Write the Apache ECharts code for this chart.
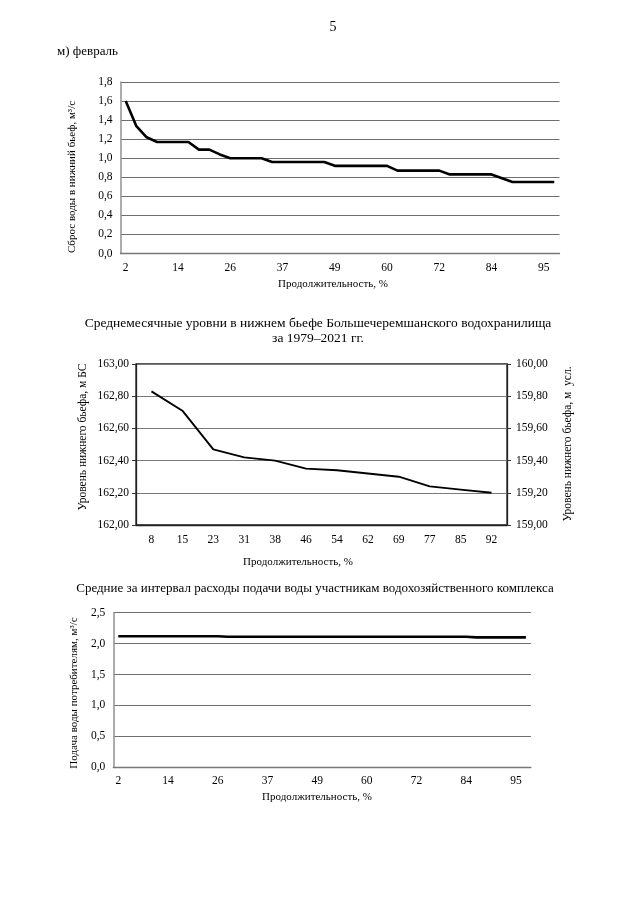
<!DOCTYPE html>
<html>
<head>
<meta charset="utf-8">
<script src="https://cdn.jsdelivr.net/npm/echarts@6/dist/echarts.min.js"></script>
<style>
html,body{margin:0;padding:0;background:#fff;}
#c{width:640px;height:905px;}
</style>
</head>
<body>
<div id="c"></div>
<script>
// ---- data ----
var durations42 = [2,5,7,9,12,14,16,19,21,23,26,28,30,33,35,37,40,42,44,47,49,51,53,56,58,60,63,65,67,70,72,74,77,79,81,84,86,88,91,93,95,98];
var febDischarge = [1.60,1.34,1.22,1.17,1.17,1.17,1.17,1.09,1.09,1.04,1.00,1.00,1.00,1.00,0.96,0.96,0.96,0.96,0.96,0.96,0.92,0.92,0.92,0.92,0.92,0.92,0.87,0.87,0.87,0.87,0.87,0.83,0.83,0.83,0.83,0.83,0.79,0.75,0.75,0.75,0.75,0.75];
var durations12 = [8,15,23,31,38,46,54,62,69,77,85,92];
var tailwaterLevel = [162.83,162.71,162.47,162.42,162.40,162.35,162.34,162.32,162.30,162.24,162.22,162.20];
var supplyFlow = [2.12,2.12,2.12,2.12,2.12,2.12,2.12,2.12,2.12,2.12,2.12,2.11,2.11,2.11,2.11,2.11,2.11,2.11,2.11,2.11,2.11,2.11,2.11,2.11,2.11,2.11,2.11,2.11,2.11,2.11,2.11,2.11,2.11,2.11,2.11,2.11,2.10,2.10,2.10,2.10,2.10,2.10];

var FF = 'Liberation Serif';
function comma(d){ return function(v){ return v.toFixed(d).replace('.', ','); }; }
var gridLine = {show:true, lineStyle:{color:'#6e6e6e', width:1.2}};
var lbl = {fontFamily:FF, fontSize:11.5, color:'#000'};
var tick = {interval:0, length:4, lineStyle:{color:'#333', width:1}};

var chart = echarts.init(document.getElementById('c'), null, {renderer:'canvas'});
chart.setOption({
  animation:false,
  backgroundColor:'#fff',
  grid:[
    {left:120.5, top:82, width:439, height:171.5, containLabel:false},
    {left:136, top:364, width:371, height:161, containLabel:false, show:true, borderColor:'#222', borderWidth:1.3},
    {left:113.3, top:612.7, width:417.6, height:154.5, containLabel:false}
  ],
  xAxis:[
    {gridIndex:0, type:'category', data:durations42, boundaryGap:true,
     axisLine:{lineStyle:{color:'#777', width:1.3}},
     axisTick:tick,
     axisLabel:Object.assign({interval:4, margin:8}, lbl)},
    {gridIndex:1, type:'category', data:durations12, boundaryGap:true,
     axisLine:{lineStyle:{color:'#222', width:1.3}},
     axisTick:{interval:0, length:5, lineStyle:{color:'#333'}},
     axisLabel:Object.assign({interval:0, margin:9}, lbl)},
    {gridIndex:2, type:'category', data:durations42, boundaryGap:true,
     axisLine:{lineStyle:{color:'#777', width:1.3}},
     axisTick:tick,
     axisLabel:Object.assign({interval:4, margin:8}, lbl)}
  ],
  yAxis:[
    {gridIndex:0, type:'value', min:0, max:1.8, interval:0.2,
     axisLine:{show:true, lineStyle:{color:'#999', width:1.6}},
     axisTick:{show:false},
     axisLabel:Object.assign({formatter:comma(1), margin:8}, lbl),
     splitLine:gridLine},
    {gridIndex:1, type:'value', min:162, max:163, interval:0.2,
     axisLine:{show:true, lineStyle:{color:'#222', width:1.3}},
     axisTick:{show:true, length:4, lineStyle:{color:'#333'}},
     axisLabel:Object.assign({formatter:comma(2), margin:7}, lbl),
     splitLine:{show:true, lineStyle:{color:'#7a7a7a', width:1.2}}},
    {gridIndex:1, type:'value', position:'right', min:159, max:160, interval:0.2,
     axisLine:{show:true, lineStyle:{color:'#222', width:1.3}},
     axisTick:{show:true, length:4, lineStyle:{color:'#333'}},
     axisLabel:Object.assign({formatter:comma(2), margin:9}, lbl),
     splitLine:{show:false}},
    {gridIndex:2, type:'value', min:0, max:2.5, interval:0.5,
     axisLine:{show:true, lineStyle:{color:'#999', width:1.6}},
     axisTick:{show:false},
     axisLabel:Object.assign({formatter:comma(1), margin:8}, lbl),
     splitLine:gridLine}
  ],
  series:[
    {type:'line', xAxisIndex:0, yAxisIndex:0, data:febDischarge, symbol:'none',
     lineStyle:{color:'#000', width:2.6}},
    {type:'line', xAxisIndex:1, yAxisIndex:1, data:tailwaterLevel, symbol:'none',
     lineStyle:{color:'#000', width:1.9}},
    {type:'line', xAxisIndex:2, yAxisIndex:3, data:supplyFlow, symbol:'none',
     lineStyle:{color:'#000', width:2.6}}
  ],
  graphic:[
    {type:'text', x:333, y:27, style:{text:'5', font:'14px "Liberation Serif"', fill:'#000', textAlign:'center', textVerticalAlign:'middle', align:'center', verticalAlign:'middle'}},
    {type:'text', x:57, y:52, style:{text:'м) февраль', font:'13px "Liberation Serif"', fill:'#000', textAlign:'left', textVerticalAlign:'middle', align:'left', verticalAlign:'middle'}},
    {type:'text', x:72, y:177, rotation:Math.PI/2, style:{text:'Сброс воды в нижний бьеф, м³/с', font:'11px "Liberation Serif"', fill:'#000', textAlign:'center', textVerticalAlign:'middle', align:'center', verticalAlign:'middle'}},
    {type:'text', x:333, y:284, style:{text:'Продолжительность, %', font:'11px "Liberation Serif"', fill:'#000', textAlign:'center', textVerticalAlign:'middle', align:'center', verticalAlign:'middle'}},
    {type:'text', x:318, y:323, style:{text:'Среднемесячные уровни в нижнем бьефе Большечеремшанского водохранилища', font:'13.5px "Liberation Serif"', fill:'#000', textAlign:'center', textVerticalAlign:'middle', align:'center', verticalAlign:'middle'}},
    {type:'text', x:318, y:338, style:{text:'за 1979–2021 гг.', font:'13.5px "Liberation Serif"', fill:'#000', textAlign:'center', textVerticalAlign:'middle', align:'center', verticalAlign:'middle'}},
    {type:'text', x:83, y:437, rotation:Math.PI/2, style:{text:'Уровень нижнего бьефа, м БС', font:'11.5px "Liberation Serif"', fill:'#000', textAlign:'center', textVerticalAlign:'middle', align:'center', verticalAlign:'middle'}},
    {type:'text', x:568, y:444, rotation:Math.PI/2, style:{text:'Уровень нижнего бьефа, м  усл.', font:'11.5px "Liberation Serif"', fill:'#000', textAlign:'center', textVerticalAlign:'middle', align:'center', verticalAlign:'middle'}},
    {type:'text', x:298, y:562, style:{text:'Продолжительность, %', font:'11px "Liberation Serif"', fill:'#000', textAlign:'center', textVerticalAlign:'middle', align:'center', verticalAlign:'middle'}},
    {type:'text', x:315, y:589, style:{text:'Средние за интервал расходы подачи воды участникам водохозяйственного комплекса', font:'13px "Liberation Serif"', fill:'#000', textAlign:'center', textVerticalAlign:'middle', align:'center', verticalAlign:'middle'}},
    {type:'text', x:74, y:693, rotation:Math.PI/2, style:{text:'Подача воды потребителям, м³/с', font:'11px "Liberation Serif"', fill:'#000', textAlign:'center', textVerticalAlign:'middle', align:'center', verticalAlign:'middle'}},
    {type:'text', x:317, y:797, style:{text:'Продолжительность, %', font:'11px "Liberation Serif"', fill:'#000', textAlign:'center', textVerticalAlign:'middle', align:'center', verticalAlign:'middle'}}
  ]
});
</script>
</body>
</html>
